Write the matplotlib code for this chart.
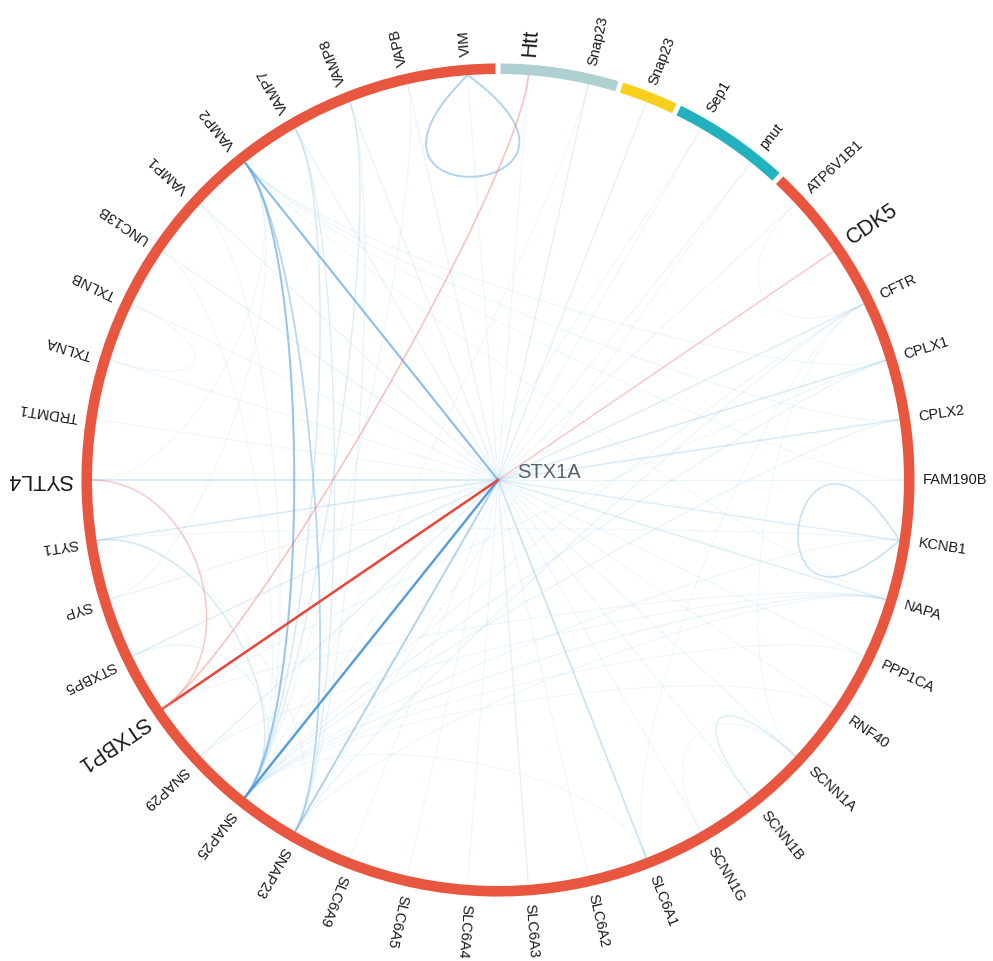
import numpy as np
import matplotlib.pyplot as plt
from matplotlib.path import Path
from matplotlib.patches import PathPatch, Wedge

# nodes around the ring, clockwise from the top
node_ids = ["Htt", "Snap23_d", "Snap23_m", "Sep1", "pnut",
            "ATP6V1B1", "CDK5", "CFTR", "CPLX1", "CPLX2", "FAM190B", "KCNB1",
            "NAPA", "PPP1CA", "RNF40", "SCNN1A", "SCNN1B", "SCNN1G", "SLC6A1",
            "SLC6A2", "SLC6A3", "SLC6A4", "SLC6A5", "SLC6A9", "SNAP23", "SNAP25",
            "SNAP29", "STXBP1", "STXBP5", "SYP", "SYT1", "SYTL4", "TRDMT1",
            "TXLNA", "TXLNB", "UNC13B", "VAMP1", "VAMP2", "VAMP7", "VAMP8",
            "VAPB", "VIM"]
node_labels = ["Htt", "Snap23", "Snap23", "Sep1", "pnut"] + node_ids[5:]
big_labels = ["Htt", "CDK5", "STXBP1", "SYTL4"]
hub = "STX1A"

# ring segments: (group, number of nodes)
groups = ["Htt", "Snap23", "Sep1", "human"]
group_sizes = [2, 1, 2, 37]
group_colors = ["#aed0d0", "#f8cf1a", "#22b2be", "#e9563f"]

# edges with the hub: (node, weight)
hub_edges = [("Htt", 0.15), ("Snap23_d", 0.25), ("Snap23_m", 0.25), ("Sep1", 0.15), ("pnut", 0.15),
             ("ATP6V1B1", 0.15), ("CFTR", 0.3), ("CPLX1", 0.35), ("CPLX2", 0.35),
             ("FAM190B", 0.2), ("KCNB1", 0.3), ("NAPA", 0.3), ("PPP1CA", 0.15),
             ("RNF40", 0.12), ("SCNN1A", 0.15), ("SCNN1B", 0.15), ("SCNN1G", 0.15),
             ("SLC6A1", 0.45), ("SLC6A2", 0.15), ("SLC6A3", 0.25), ("SLC6A4", 0.15),
             ("SLC6A5", 0.12), ("SLC6A9", 0.12), ("SNAP23", 0.6), ("SNAP25", 0.95),
             ("SNAP29", 0.25), ("STXBP5", 0.3), ("SYP", 0.2), ("SYT1", 0.35),
             ("SYTL4", 0.4), ("TRDMT1", 0.15), ("TXLNA", 0.15), ("TXLNB", 0.15),
             ("UNC13B", 0.2), ("VAMP1", 0.2), ("VAMP2", 0.75), ("VAMP7", 0.2),
             ("VAMP8", 0.2), ("VAPB", 0.2), ("VIM", 0.15)]
hub_red = [("STXBP1", 1.0), ("CDK5", 0.4)]

# edges between ring nodes: (a, b, weight)
ring_edges = [("VAMP2", "SNAP25", 0.7), ("VAMP2", "SNAP23", 0.55),
              ("VAMP7", "SNAP25", 0.35), ("VAMP7", "SNAP23", 0.3),
              ("VAMP8", "SNAP25", 0.3), ("VAMP8", "SNAP23", 0.2),
              ("VAMP1", "SNAP25", 0.15), ("VAPB", "SNAP25", 0.15),
              ("SYT1", "SNAP25", 0.35), ("SYT1", "SNAP23", 0.12),
              ("VIM", "VIM", 0.6), ("KCNB1", "KCNB1", 0.45),
              ("SCNN1A", "SCNN1B", 0.3), ("SCNN1A", "SCNN1G", 0.12),
              ("TXLNA", "TXLNB", 0.12),
              ("CPLX1", "SNAP25", 0.2), ("CPLX2", "SNAP25", 0.2),
              ("CPLX1", "VAMP2", 0.15), ("CPLX2", "VAMP2", 0.15),
              ("CPLX1", "STXBP1", 0.15), ("CFTR", "SNAP23", 0.2),
              ("CFTR", "SNAP25", 0.15), ("CFTR", "SLC6A1", 0.12),
              ("NAPA", "SNAP25", 0.2), ("NAPA", "STXBP1", 0.15),
              ("NAPA", "VAMP2", 0.12), ("NAPA", "SNAP23", 0.15),
              ("NAPA", "SNAP29", 0.15), ("KCNB1", "SNAP25", 0.15),
              ("KCNB1", "SYT1", 0.12), ("STXBP5", "SNAP25", 0.2),
              ("SYP", "VAMP2", 0.15), ("UNC13B", "SNAP25", 0.12),
              ("Snap23_d", "SNAP25", 0.12), ("Sep1", "SNAP25", 0.12),
              ("pnut", "SNAP23", 0.12), ("ATP6V1B1", "CFTR", 0.12),
              ("CFTR", "SCNN1A", 0.12), ("PPP1CA", "SNAP25", 0.12),
              ("RNF40", "SNAP25", 0.12), ("SLC6A1", "SNAP25", 0.12),
              ("VAMP2", "FAM190B", 0.12), ("SYTL4", "VAMP2", 0.12)]
ring_red = [("Htt", "STXBP1", 0.45), ("SYTL4", "STXBP1", 0.4)]

n = len(node_ids)
step = 360.0 / n
angles = {nid: 90 - (i + 0.5) * step for i, nid in enumerate(node_ids)}


def pos(nid):
    a = np.deg2rad(angles[nid])
    return np.array([np.cos(a), np.sin(a)])


def edge_path(a, b):
    p0 = pos(a)
    if a == b:
        # self interaction: teardrop loop pointing inwards
        u = -p0
        d = 0.52
        rot = np.deg2rad(50)
        r1 = np.array([[np.cos(rot), -np.sin(rot)], [np.sin(rot), np.cos(rot)]])
        c1 = p0 + d * r1 @ u
        c2 = p0 + d * r1.T @ u
        return Path([p0, c1, c2, p0], [Path.MOVETO, Path.CURVE4, Path.CURVE4, Path.CURVE4])
    p3 = pos(b)
    k = 0.26
    return Path([p0, p0 * (1 - k), p3 * (1 - k), p3],
                [Path.MOVETO, Path.CURVE4, Path.CURVE4, Path.CURVE4])


blue_lo = np.array([0.72, 0.87, 0.96])
blue_hi = np.array([0.27, 0.58, 0.84])
red_lo = np.array([0.97, 0.62, 0.58])
red_hi = np.array([0.91, 0.27, 0.22])


def style(w, lo, hi):
    col = lo + (hi - lo) * w
    alpha = min(1.0, 0.12 + 0.88 * w ** 1.3)
    lw = 0.7 + 1.1 * w
    return col, alpha, lw


fig = plt.figure(figsize=(9.93, 9.61), dpi=100)
ax = fig.add_axes([0, 0, 1, 1])
R = 406.0
ax.set_xlim(-498 / R, 495 / R)
ax.set_ylim(-481 / R, 480 / R)
ax.axis("off")

# edges
for nid, w in hub_edges:
    col, al, lw = style(w, blue_lo, blue_hi)
    p = pos(nid)
    ax.plot([0, p[0]], [0, p[1]], color=col, alpha=al, lw=lw, zorder=1 + w,
            solid_capstyle="round")
for nid, w in hub_red:
    col, al, lw = style(w, red_lo, red_hi)
    p = pos(nid)
    ax.plot([0, p[0]], [0, p[1]], color=col, alpha=al, lw=lw, zorder=3)
for a, b, w in ring_edges:
    col, al, lw = style(w, blue_lo, blue_hi)
    ax.add_patch(PathPatch(edge_path(a, b), fc="none", ec=col, alpha=al, lw=lw,
                           zorder=1 + w))
for a, b, w in ring_red:
    col, al, lw = style(w, red_lo, red_hi)
    ax.add_patch(PathPatch(edge_path(a, b), fc="none", ec=col, alpha=al, lw=lw,
                           zorder=3))

# ring segments
gap = 0.35
start = 90.0
for g, size, c in zip(groups, group_sizes, group_colors):
    end = start - size * step
    ax.add_patch(Wedge((0, 0), 1.026, end + gap, start - gap, width=0.026,
                       fc=c, ec="none", zorder=5))
    start = end

# labels
for nid, lab in zip(node_ids, node_labels):
    a = angles[nid]
    p = pos(nid) * 1.047
    fs = 15.5 if lab in big_labels else 10.5
    ax.text(p[0], p[1], lab, rotation=a, rotation_mode="anchor",
            ha="left", va="center", fontsize=fs, family="Liberation Sans",
            color="#1a1a1a", zorder=6)

ax.text(19 / R, 7 / R, hub, ha="left", va="center", fontsize=14.5,
        family="Liberation Sans", color="#56636d", zorder=6)

fig.savefig("out.png", dpi=100)
